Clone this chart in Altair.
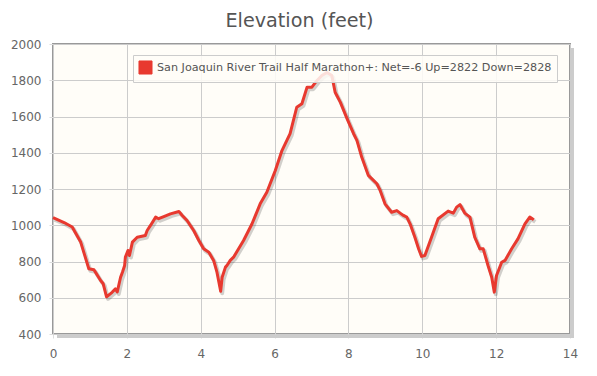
import altair as alt
import pandas as pd

miles = [0.0, 0.3, 0.52, 0.75, 0.97, 1.11, 1.29, 1.36, 1.45, 1.6, 1.69, 1.74, 1.83, 1.88, 1.94, 1.96,
         2.03, 2.07, 2.15, 2.28, 2.5, 2.55, 2.64, 2.78, 2.86, 3.0, 3.18, 3.41, 3.5, 3.63, 3.81, 3.95,
         4.08, 4.22, 4.35, 4.44, 4.54, 4.58, 4.67, 4.71, 4.8, 4.89, 5.16, 5.39, 5.61, 5.79, 6.02, 6.2,
         6.42, 6.6, 6.74, 6.88, 7.01, 7.15, 7.28, 7.42, 7.55, 7.64, 7.78, 7.96, 8.14, 8.23, 8.36, 8.54,
         8.77, 8.86, 8.99, 9.17, 9.31, 9.4, 9.49, 9.58, 9.67, 9.8, 9.9, 9.98, 10.07, 10.25, 10.43, 10.7,
         10.84, 10.93, 11.02, 11.15, 11.29, 11.42, 11.56, 11.65, 11.78, 11.88, 11.95, 12.01, 12.15,
         12.24, 12.42, 12.59, 12.78, 12.91, 13.02]
elevation = [1042, 1015, 990, 907, 760, 754, 695, 677, 605, 630, 649, 632, 713, 741, 778, 824,
             861, 833, 907, 934, 943, 971, 999, 1045, 1036, 1048, 1063, 1076, 1054, 1026, 971, 916,
             870, 851, 806, 741, 636, 713, 769, 778, 806, 824, 916, 1008, 1118, 1182, 1302, 1412,
             1505, 1651, 1670, 1762, 1762, 1799, 1826, 1843, 1826, 1734, 1679, 1590, 1505, 1468, 1376, 1275,
             1229, 1192, 1118, 1072, 1081, 1067, 1054, 1045, 1008, 934, 870, 828, 833, 934, 1036, 1078,
             1067, 1100, 1114, 1067, 1045, 934, 870, 870, 778, 713, 631, 723, 796,
             806, 870, 925, 1008, 1045, 1030]
series_label = "San Joaquin River Trail Half Marathon+: Net=-6 Up=2822 Down=2828"
title_text = "Elevation (feet)"
x_ticks = [0, 2, 4, 6, 8, 10, 12, 14]
y_ticks = [400, 600, 800, 1000, 1200, 1400, 1600, 1800, 2000]

df = pd.DataFrame({"miles": miles, "elevation": elevation, "series": series_label})

W, H = 517, 290
FONT = "DejaVu Sans"
RED = "#E8392F"

x_enc = alt.X("miles:Q", scale=alt.Scale(domain=[0, 14], nice=False),
              axis=alt.Axis(values=x_ticks, title=None, grid=True, labelPadding=10,
                            labelFlush=False, labelOverlap=False,
                            tickSize=4, tickColor="#ddd", domain=False, format="d"))
y_enc = alt.Y("elevation:Q", scale=alt.Scale(domain=[400, 2000], nice=False),
              axis=alt.Axis(values=y_ticks, title=None, grid=True, labelPadding=8,
                            labelFlush=False, labelOverlap=False,
                            tickSize=4, tickColor="#ddd", domain=False, format="d"))

shadow = alt.Chart(df).mark_line(color="#000", opacity=0.18, strokeWidth=4,
                                 xOffset=1.5, yOffset=2, strokeJoin="round").encode(x=x_enc, y=y_enc)

line = alt.Chart(df).mark_line(strokeWidth=3, strokeJoin="round").encode(
    x=x_enc, y=y_enc,
    color=alt.Color("series:N",
                    scale=alt.Scale(domain=[series_label], range=[RED]),
                    legend=alt.Legend(title=None, orient="none", legendX=80, legendY=11,
                                      symbolType="square", symbolSize=170,
                                      symbolFillColor=RED,
                                      symbolStrokeColor="#bbb", symbolStrokeWidth=1,
                                      labelFont=FONT, labelFontSize=11.2, labelColor="#555",
                                      labelLimit=600, padding=5,
                                      strokeColor="#ccc", fillColor="rgba(255,253,248,0.85)")),
)

frame_shadow_r = alt.Chart(df).mark_rule(color="#ccc", strokeWidth=3).encode(
    x=alt.value(W + 2.5), y=alt.value(4), y2=alt.value(H + 4))
frame_shadow_b = alt.Chart(df).mark_rule(color="#ccc", strokeWidth=3).encode(
    x=alt.value(4), x2=alt.value(W + 4), y=alt.value(H + 2.5))

chart = alt.layer(frame_shadow_r, frame_shadow_b, shadow, line).properties(
    width=W, height=H,
    title=alt.TitleParams(title_text, font=FONT, fontSize=19.2, fontWeight="normal",
                          color="#555", anchor="middle", offset=7, dx=-12),
    autosize=alt.AutoSizeParams(type="none"),
    padding={"left": 45, "top": 36, "right": 19, "bottom": 34},
    background="#ffffff",
).configure_view(
    fill="#FFFDF8", stroke="#999", strokeWidth=2
).configure_axis(
    gridColor="#cccccc", gridWidth=1, labelFont=FONT, labelFontSize=12, labelColor="#666"
)

chart.save("out.html", embed_options={"renderer": "svg", "actions": False})
